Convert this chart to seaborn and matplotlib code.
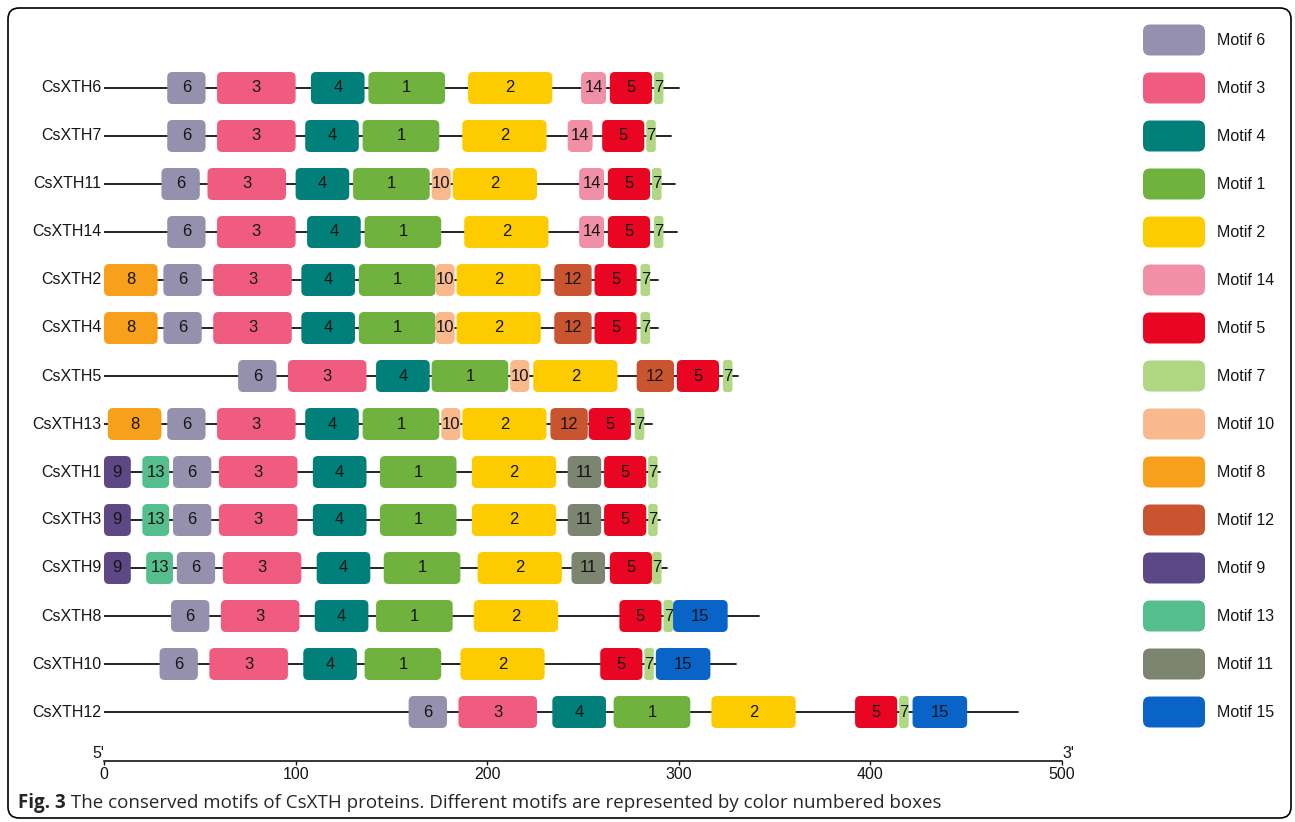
import matplotlib
matplotlib.use("Agg")
import matplotlib.pyplot as plt
from matplotlib.patches import FancyBboxPatch
import seaborn as sns
import pandas as pd

# ---- data -----------------------------------------------------------------
proteins = ["CsXTH6", "CsXTH7", "CsXTH11", "CsXTH14", "CsXTH2", "CsXTH4",
            "CsXTH5", "CsXTH13", "CsXTH1", "CsXTH3", "CsXTH9", "CsXTH8",
            "CsXTH10", "CsXTH12"]
protein_lengths = [300, 296, 298, 299, 289, 289, 331, 286, 290, 290, 294,
                   342, 330, 477]

motif_ids = [
    [6, 3, 4, 1, 2, 14, 5, 7],
    [6, 3, 4, 1, 2, 14, 5, 7],
    [6, 3, 4, 1, 10, 2, 14, 5, 7],
    [6, 3, 4, 1, 2, 14, 5, 7],
    [8, 6, 3, 4, 1, 10, 2, 12, 5, 7],
    [8, 6, 3, 4, 1, 10, 2, 12, 5, 7],
    [6, 3, 4, 1, 10, 2, 12, 5, 7],
    [8, 6, 3, 4, 1, 10, 2, 12, 5, 7],
    [9, 13, 6, 3, 4, 1, 2, 11, 5, 7],
    [9, 13, 6, 3, 4, 1, 2, 11, 5, 7],
    [9, 13, 6, 3, 4, 1, 2, 11, 5, 7],
    [6, 3, 4, 1, 2, 5, 7, 15],
    [6, 3, 4, 1, 2, 5, 7, 15],
    [6, 3, 4, 1, 2, 5, 7, 15],
]
motif_starts = [
    [33, 59, 108, 138, 190, 249, 264, 287],
    [33, 59, 105, 135, 187, 242, 260, 283],
    [30, 54, 100, 130, 171, 182, 248, 263, 286],
    [33, 59, 106, 136, 188, 248, 263, 287],
    [0, 31, 57, 103, 133, 173, 184, 235, 256, 280],
    [0, 31, 57, 103, 133, 173, 184, 235, 256, 280],
    [70, 96, 142, 171, 212, 224, 278, 299, 323],
    [2, 33, 59, 105, 135, 176, 187, 233, 253, 277],
    [0, 20, 36, 60, 109, 144, 192, 242, 261, 284],
    [0, 20, 36, 60, 109, 144, 192, 242, 261, 284],
    [0, 22, 38, 62, 111, 146, 195, 244, 264, 286],
    [35, 61, 110, 142, 193, 269, 292, 297],
    [29, 55, 104, 136, 186, 259, 282, 288],
    [159, 185, 234, 266, 317, 392, 415, 422],
]
# motif lengths (aa), indexed by motif number
motif_widths = {1: 40, 2: 44, 3: 41, 4: 28, 5: 22, 6: 20, 7: 5, 8: 28,
                9: 14, 10: 10, 11: 17.5, 12: 19.5, 13: 14, 14: 13, 15: 28.5}

legend_motifs = [6, 3, 4, 1, 2, 14, 5, 7, 10, 8, 12, 9, 13, 11, 15]
legend_colors = ["#9490AE", "#EF5C80", "#008078", "#70B23E", "#FCCC00",
                 "#F08FA6", "#EA0622", "#AFD784", "#FAB98C", "#F7A01B",
                 "#C95430", "#5D4886", "#54BE8C", "#7D8570", "#0A64C8"]
motif_colors = dict(zip(legend_motifs, legend_colors))

axis_ticks = [0, 100, 200, 300, 400, 500]
caption_bold = "Fig. 3"
caption_text = ("The conserved motifs of CsXTH proteins. Different motifs "
                "are represented by color numbered boxes")

# ---- figure ---------------------------------------------------------------
sns.set_theme(style="white")
plt.rcParams["font.family"] = ["Liberation Sans", "DejaVu Sans"]

W, H = 1295, 822
fig = plt.figure(figsize=(W / 100, H / 100), dpi=100)
fig.patch.set_facecolor("white")

# frame + caption layer (pixel layout)
frame = fig.add_axes([0, 0, 1, 1])
frame.set_xlim(0, W)
frame.set_ylim(H, 0)
frame.axis("off")
frame.add_patch(FancyBboxPatch((8, 8), 1283, 810,
                               boxstyle="round,pad=0,rounding_size=11",
                               fc="none", ec="black", lw=1.2))
t1 = frame.text(18, 803, caption_bold, fontsize=13.5, fontweight="bold",
                family=["Open Sans", "DejaVu Sans"], va="center", ha="left")
frame.annotate(" " + caption_text, xy=(1, 0.5), xycoords=t1,
               va="center", ha="left", fontsize=13.5,
               family=["Open Sans", "DejaVu Sans"])

# main motif panel
row_px = 48.0
left_px, right_px, top_px, base_px = 104, 1062, 64, 761
ax = fig.add_axes([left_px / W, 1 - base_px / H,
                   (right_px - left_px) / W, (base_px - top_px) / H])
ax.patch.set_alpha(0)
x_px_per_unit = (right_px - left_px) / 500.0
aspect = x_px_per_unit / row_px

# backbones
bb = pd.DataFrame({
    "protein": [p for p in proteins for _ in range(2)],
    "pos": [v for L in protein_lengths for v in (0, L)],
    "row": [i for i in range(len(proteins)) for _ in range(2)],
})
sns.lineplot(data=bb, x="pos", y="row", units="protein", estimator=None,
             sort=False, color="#111111", linewidth=1.3, ax=ax,
             legend=False, zorder=1)

box_h = 32 / row_px
for i, (ids, starts) in enumerate(zip(motif_ids, motif_starts)):
    for m, s in zip(ids, starts):
        w = motif_widths[m]
        r = min(2.7, w * 0.3)
        ax.add_patch(FancyBboxPatch(
            (s, i - box_h / 2), w, box_h,
            boxstyle=f"round,pad=0,rounding_size={r}",
            mutation_aspect=aspect, fc=motif_colors[m],
            ec="none", zorder=2))
        ax.text(s + w / 2, i, str(m), ha="center", va="center",
                fontsize=12, color="#151515", zorder=3)
    ax.annotate(proteins[i], xy=(0, i), xytext=(-2, 0),
                textcoords="offset points", ha="right", va="center",
                fontsize=11.5, color="#151515")

ax.set_xlim(0, 500)
ax.set_ylim((base_px - 88) / row_px, (top_px - 88) / row_px)
ax.set_xlabel("")
ax.set_ylabel("")
ax.set_yticks([])
ax.set_xticks(axis_ticks)
ax.set_xticklabels([str(t) for t in axis_ticks])
ax.tick_params(axis="x", bottom=True, direction="out", length=3, width=1,
               pad=1, labelsize=11.5, colors="#151515")
for side in ("left", "right", "top"):
    ax.spines[side].set_visible(False)
ax.spines["bottom"].set_color("#151515")
ax.spines["bottom"].set_linewidth(1.2)
ax.text(0, 0, "5'", transform=ax.get_xaxis_transform(), ha="right",
        va="bottom", fontsize=11.5, color="#151515")
ax.text(500, 0, "3'", transform=ax.get_xaxis_transform(), ha="left",
        va="bottom", fontsize=11.5, color="#151515")

# legend panel
lg_left, lg_right, lg_top = 1130, 1290, 16
lax = fig.add_axes([lg_left / W, 1 - base_px / H,
                    (lg_right - lg_left) / W, (base_px - lg_top) / H])
lax.axis("off")
lax.set_xlim(0, lg_right - lg_left)
lax.set_ylim((base_px - 40) / row_px, (lg_top - 40) / row_px)
lg_h = 31 / row_px
for j, (m, c) in enumerate(zip(legend_motifs, legend_colors)):
    lax.add_patch(FancyBboxPatch((13, j - lg_h / 2), 62, lg_h,
                                 boxstyle="round,pad=0,rounding_size=7",
                                 mutation_aspect=1 / row_px, fc=c, ec="none"))
    lax.text(87, j, f"Motif {m}", ha="left", va="center", fontsize=11.5,
             color="#151515")

fig.savefig("out.png", dpi=100)
